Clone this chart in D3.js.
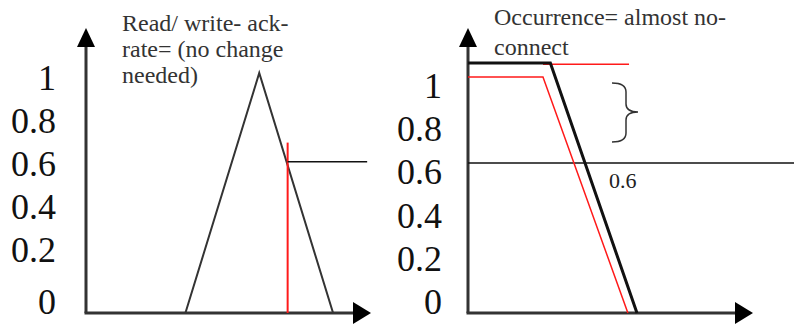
<!DOCTYPE html>
<html>
<head>
<meta charset="utf-8">
<script src="https://cdn.jsdelivr.net/npm/d3@7"></script>
<style>
  html, body { margin: 0; padding: 0; background: #fff; }
  svg { display: block; }
  svg text { font-family: "Liberation Serif", "Times New Roman", "Nimbus Roman", "DejaVu Serif", serif; }
</style>
</head>
<body>
<svg id="chart" width="794" height="324"></svg>
<script>
// Membership-grade tick labels shown beside each vertical axis
const tickValues = [1, 0.8, 0.6, 0.4, 0.2, 0];
const tickLabels = ["1", "0.8", "0.6", "0.4", "0.2", "0"];

// Left panel: triangular membership function and its 0.6 cut
const triangleX = [35, 61, 87];
const triangleY = [0, 1, 0];
const cutX = 71;           // red vertical input marker
const cutTop = 0.71;       // top of the red marker
const cutLevel = 0.63;     // resulting membership grade
const cutLineEnd = 99;     // where the horizontal grade line stops

// Right panel: shoulder membership functions
const shoulderX = [0, 29, 59.5];
const shoulderY = [1, 1, 0];
const shiftedX = [0, 26.4, 56.3];
const shiftedY = [0.944, 0.944, 0];
const capX = [26.4, 56.7];
const capY = [0.995, 0.995];
const levelValue = 0.6;
const levelX = [0, 115];

const titleLeft = ["Read/ write- ack-", "rate= (no change", "needed)"];
const titleRight = ["Occurrence= almost no-", "connect"];

const svg = d3.select("#chart");

// Scales
const xL = d3.scaleLinear().domain([0, 100]).range([86, 370]);
const yL = d3.scaleLinear().domain([0, 1]).range([313, 73]);
const xR = d3.scaleLinear().domain([0, 100]).range([468, 752]);
const yR = d3.scaleLinear().domain([0, 1]).range([313, 63]);

// Label rows: evenly spaced, with the "0" row set a little lower on the left
const labelRowL = d3.scaleLinear().domain([0.2, 1]).range([262, 90]);
const labelRowR = d3.scaleLinear().domain([0, 1]).range([314, 98]);

const line = (xs, ys, sx, sy) =>
  d3.line().x(d => sx(d[0])).y(d => sy(d[1]))(d3.zip(xs, ys));

function drawAxes(x0, yBase, xTip, yTip) {
  const g = svg.append("g");
  g.append("line").attr("x1", x0).attr("y1", yBase).attr("x2", x0).attr("y2", yTip + 10)
    .attr("stroke", "#333").attr("stroke-width", 3);
  g.append("line").attr("x1", x0 - 1.5).attr("y1", yBase).attr("x2", xTip - 10).attr("y2", yBase)
    .attr("stroke", "#333").attr("stroke-width", 3);
  g.append("path")
    .attr("d", `M${x0},${yTip} L${x0 + 9},${yTip + 19} L${x0 - 9},${yTip + 19} Z`)
    .attr("fill", "#000");
  g.append("path")
    .attr("d", `M${xTip},${yBase} L${xTip - 18},${yBase - 11} L${xTip - 18},${yBase + 11} Z`)
    .attr("fill", "#000");
}

function drawTicks(xRight, rowScale, zeroRow) {
  svg.append("g").selectAll("text")
    .data(d3.zip(tickValues, tickLabels))
    .join("text")
    .attr("x", xRight)
    .attr("y", d => d[0] === 0 && zeroRow !== undefined ? zeroRow : rowScale(d[0]))
    .attr("text-anchor", "end")
    .attr("font-size", 36)
    .attr("fill", "#111")
    .text(d => d[1]);
}

function drawTitle(lines, x, y0, step) {
  svg.append("g").selectAll("text")
    .data(lines)
    .join("text")
    .attr("x", x)
    .attr("y", (d, i) => y0 + i * step)
    .attr("font-size", 24)
    .attr("fill", "#333")
    .text(d => d);
}

// ---- Left panel ----
drawAxes(86, 313, 371, 28);
drawTicks(56, labelRowL, 314);
drawTitle(titleLeft, 122, 31, 26);

svg.append("path")
  .attr("d", line(triangleX, triangleY, xL, yL))
  .attr("fill", "none").attr("stroke", "#333").attr("stroke-width", 2);

svg.append("line")
  .attr("x1", xL(cutX)).attr("x2", xL(cutX))
  .attr("y1", yL(0)).attr("y2", yL(cutTop))
  .attr("stroke", "#ff1a1a").attr("stroke-width", 2);

svg.append("line")
  .attr("x1", xL(cutX)).attr("x2", xL(cutLineEnd))
  .attr("y1", yL(cutLevel)).attr("y2", yL(cutLevel))
  .attr("stroke", "#111").attr("stroke-width", 1.5);

// ---- Right panel ----
drawAxes(468, 313, 753, 28);
drawTicks(442, labelRowR);
drawTitle(titleRight, 494, 25, 30);

svg.append("line")
  .attr("x1", xR(levelX[0])).attr("x2", xR(levelX[1]))
  .attr("y1", yR(levelValue)).attr("y2", yR(levelValue))
  .attr("stroke", "#111").attr("stroke-width", 1.5);

svg.append("path")
  .attr("d", line(shiftedX, shiftedY, xR, yR))
  .attr("fill", "none").attr("stroke", "#ff1a1a").attr("stroke-width", 1.5);

svg.append("path")
  .attr("d", line(capX, capY, xR, yR))
  .attr("fill", "none").attr("stroke", "#ff1a1a").attr("stroke-width", 1.5);

svg.append("path")
  .attr("d", line(shoulderX, shoulderY, xR, yR))
  .attr("fill", "none").attr("stroke", "#111").attr("stroke-width", 3);

// Curly brace marking the gap between the two shoulders
svg.append("path")
  .attr("d", "M612,83 Q626,83 626,92 L626,104 Q626,112 638,112 Q626,112 626,120 L626,133 Q626,142 612,142")
  .attr("fill", "none").attr("stroke", "#333").attr("stroke-width", 1.5);

svg.append("text")
  .attr("x", 609).attr("y", 188)
  .attr("font-size", 22).attr("fill", "#222")
  .text(levelValue);
</script>
</body>
</html>
